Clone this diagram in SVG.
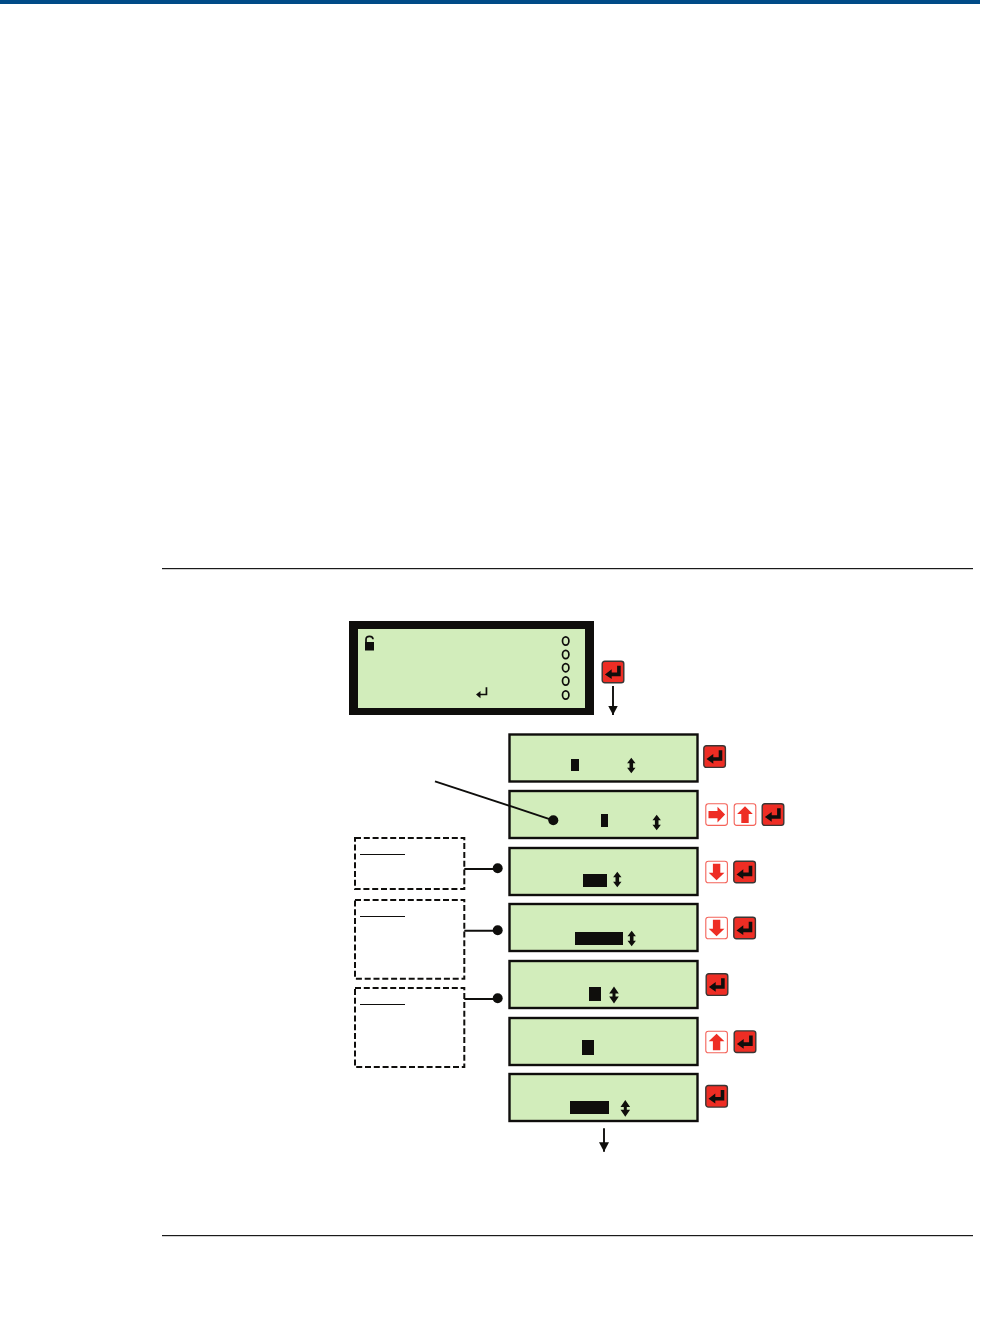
<svg xmlns="http://www.w3.org/2000/svg" width="993" height="1339" viewBox="0 0 993 1339">
<style>
.k{fill:#0f0e0c}
.p{fill:#d2edbb;stroke:#0f0e0c;stroke-width:2.4}
.d{fill:#fff;stroke:#0f0e0c;stroke-width:2;stroke-dasharray:6 2.8}
.u{stroke:#0f0e0c;stroke-width:1.1;fill:none}
.c{stroke:#0f0e0c;stroke-width:1.9;fill:none}
.o{fill:none;stroke:#0f0e0c;stroke-width:1.7}
</style>
<defs>
<g id="enter">
<rect x="0.5" y="0.5" width="21.6" height="21.6" rx="2.6" fill="#ee2d24" stroke="#3a3634" stroke-width="1.4"/>
<path d="M15.4 5H19V15.5H10V18.4L3.2 13.7L10 8.6V11.9H15.4Z" fill="#0f0e0c"/>
</g>
<g id="keyframe"><rect x="0.5" y="0.5" width="21.6" height="21.6" rx="2.6" fill="#fff" stroke="#f4635a" stroke-width="1.1"/></g>
<g id="right"><use href="#keyframe"/><path d="M3.2 7.6H12.2V3.4L19.8 11.3L12.2 19.1V15H3.2Z" fill="#ee2d24"/></g>
<g id="up"><use href="#keyframe"/><path d="M7.6 19.6V10.6H3.4L11.3 3L19.1 10.6H15V19.6Z" fill="#ee2d24"/></g>
<g id="down"><use href="#keyframe"/><path d="M7.6 3V12H3.4L11.3 19.6L19.1 12H15V3Z" fill="#ee2d24"/></g>
<path id="ud" d="M0 -7.800L4.200 -2.300H1.800V2.300H4.200L0 7.800L-4.200 2.300H-1.800V-2.300H-4.200Z" fill="#0f0e0c"/>
<path id="ud2" d="M0 -8.400L4.800 -1.400H1.500V1.400H4.800L0 8.400L-4.800 1.400H-1.500V-1.400H-4.800Z" fill="#0f0e0c"/>
<marker id="ah" markerUnits="userSpaceOnUse" markerWidth="11" markerHeight="11" refX="9.500" refY="5" orient="auto"><path d="M0 0L9.500 5L0 10Z" fill="#0f0e0c"/></marker>
</defs>
<rect width="993" height="1339" fill="#fff"/>
<rect id="topbar" x="0" y="0" width="980" height="4" fill="#004b87"/>
<rect id="rule1" x="162" y="568" width="811" height="1.200" fill="#1a1a1a"/>
<rect id="rule2" x="162" y="1235" width="811" height="1.200" fill="#1a1a1a"/>

<g id="main-display">
<rect x="349" y="621" width="245" height="94" class="k"/>
<rect x="358" y="629" width="227" height="79" fill="#d2edbb"/>
<path d="M365 642H374V650.500H365Z" class="k"/>
<path d="M366 642.500V639.500Q366 636.300 369.500 636.300Q373 636.300 373 639.300" class="o"/>
<ellipse cx="565.700" cy="641" rx="3.200" ry="4.100" class="o"/>
<ellipse cx="565.700" cy="654.500" rx="3.200" ry="4.100" class="o"/>
<ellipse cx="565.700" cy="667.700" rx="3.200" ry="4.100" class="o"/>
<ellipse cx="565.700" cy="681" rx="3.200" ry="4.100" class="o"/>
<ellipse cx="565.700" cy="695" rx="3.200" ry="4.100" class="o"/>
<path d="M485.600 687.300H487.300V695.300H480.500V698.300L476 694.500L480.500 691V693.800H485.600Z" class="k"/>
</g>

<g id="panel-1"><rect x="509.500" y="734.500" width="188" height="47" class="p"/><rect x="571" y="759" width="8" height="12" class="k"/><use href="#ud" x="631.300" y="765.500"/></g>
<g id="panel-2"><rect x="509.500" y="791" width="188" height="47" class="p"/><rect x="601" y="814" width="7" height="13" class="k"/><use href="#ud" x="656.700" y="822.500"/></g>
<g id="panel-3"><rect x="509.500" y="848" width="188" height="47" class="p"/><rect x="583" y="874" width="24" height="13" class="k"/><use href="#ud" x="617.300" y="879.500"/></g>
<g id="panel-4"><rect x="509.500" y="904" width="188" height="47" class="p"/><rect x="575" y="932" width="48" height="13" class="k"/><use href="#ud" x="631.700" y="938.500"/></g>
<g id="panel-5"><rect x="509.500" y="961" width="188" height="47" class="p"/><rect x="589" y="987" width="12" height="14" class="k"/><use href="#ud2" x="614" y="995"/></g>
<g id="panel-6"><rect x="509.500" y="1018" width="188" height="47" class="p"/><rect x="582" y="1040" width="12" height="15" class="k"/></g>
<g id="panel-7"><rect x="509.500" y="1074" width="188" height="47" class="p"/><rect x="570" y="1101" width="39" height="13" class="k"/><use href="#ud2" x="625.300" y="1108.300"/></g>

<g id="note-1"><rect x="355" y="838" width="109.300" height="51" class="d"/><path d="M360 854.500H405" class="u"/></g>
<g id="note-2"><rect x="355" y="900" width="109.300" height="78.700" class="d"/><path d="M360 916.500H405" class="u"/></g>
<g id="note-3"><rect x="355" y="988" width="109.300" height="79" class="d"/><path d="M360 1004.500H405" class="u"/></g>

<g id="keys-0"><use href="#enter" x="601.700" y="660.700"/></g>
<g id="keys-1"><use href="#enter" x="703.300" y="745.300"/></g>
<g id="keys-2"><use href="#right" x="705.300" y="803.300"/><use href="#up" x="733.700" y="803.300"/><use href="#enter" x="761.700" y="803.300"/></g>
<g id="keys-3"><use href="#down" x="705.300" y="860.700"/><use href="#enter" x="733.300" y="860.700"/></g>
<g id="keys-4"><use href="#down" x="705.300" y="916.700"/><use href="#enter" x="733.300" y="916.700"/></g>
<g id="keys-5"><use href="#enter" x="705.700" y="973.300"/></g>
<g id="keys-6"><use href="#up" x="705.300" y="1030.700"/><use href="#enter" x="733.700" y="1030.400"/></g>
<g id="keys-7"><use href="#enter" x="705.300" y="1085"/></g>

<g id="connectors">
<path d="M613 686V715" class="c" marker-end="url(#ah)"/>
<path d="M604 1128.300V1151.700" class="c" marker-end="url(#ah)"/>
<path d="M435 781.300L553.300 820.300" class="c"/>
<circle cx="553.300" cy="820.300" r="5" class="k"/>
<path d="M464.300 869H497.700" class="c"/><circle cx="497.700" cy="868.300" r="5" class="k"/>
<path d="M464.300 930.700H497.700" class="c"/><circle cx="497.700" cy="930.300" r="5" class="k"/>
<path d="M464.300 999H497.700" class="c"/><circle cx="497.700" cy="998.300" r="5" class="k"/>
</g>
</svg>
